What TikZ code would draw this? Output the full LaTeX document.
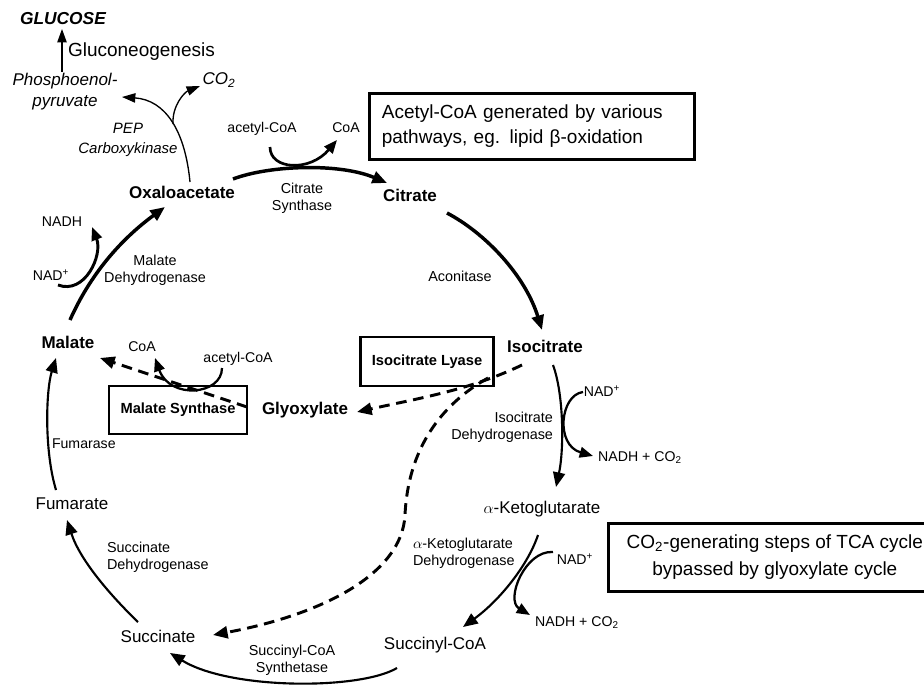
\documentclass[tikz,border=0pt]{standalone}
\usepackage{fontspec}
\setmainfont{Liberation Sans}
\usetikzlibrary{arrows.meta}
\tikzset{
  lbl/.style={inner sep=0pt, outer sep=0pt, text height=0.72em, text depth=0pt},
  metb/.style={lbl, font=\fontsize{12.75}{15}\selectfont\bfseries},
  metr/.style={lbl, font=\fontsize{12.75}{15}\selectfont},
  small/.style={lbl, font=\fontsize{10.6}{12.75}\selectfont},
  enz/.style={inner sep=0pt, outer sep=0pt, align=center, font=\fontsize{10.8}{12.75}\selectfont},
  itl/.style={inner sep=0pt, outer sep=0pt, font=\fontsize{12.75}{15.75}\selectfont\itshape},
  enzi/.style={inner sep=0pt, outer sep=0pt, align=center, font=\fontsize{11.25}{15}\selectfont\itshape},
  boxlbl/.style={draw, line width=1.9pt, inner sep=0pt, font=\fontsize{11}{13}\selectfont\bfseries},
  bigbox/.style={draw, line width=2pt, inner ysep=0pt},
  cyc/.style={line width=2.6pt, -{Triangle[length=11pt,width=9pt]}},
  cycthin/.style={line width=1.6pt, -{Triangle[length=11pt,width=9pt]}},
  side/.style={line width=1.7pt, -{Triangle[length=10pt,width=8pt]}},
  pepline/.style={line width=1pt, -{Triangle[length=10pt,width=7pt]}},
  gly/.style={line width=2.2pt, dash pattern=on 8pt off 5pt, -{Triangle[length=11pt,width=9pt]}}
}
\begin{document}
\begin{tikzpicture}[x=0.75pt,y=-0.75pt]
\clip (0,0) rectangle (924,685);
\fill[white] (0,0) rectangle (924,685);

% ---- top: gluconeogenesis
\node[lbl, font=\fontsize{13}{15}\selectfont\bfseries\itshape] (glucose) at (63,20) {GLUCOSE};
\node[lbl, anchor=west, font=\fontsize{14.25}{16}\selectfont] (gluco) at (68,52) {Gluconeogenesis};
\node[itl, align=center] (pep) at (65,92) {Phosphoenol-\\pyruvate};
\node[itl] (co2a) at (219,80) {CO\textsubscript{2}};
\node[enzi] (pepck) at (128,140) {PEP\\Carboxykinase};

% ---- metabolites
\node[metb] (oaa) at (182,194) {Oxaloacetate};
\node[metb] (cit) at (410,197) {Citrate};
\node[metb] (iso) at (545,348) {Isocitrate};
\node[metb] (glx) at (305,410) {Glyoxylate};
\node[metb] (mal) at (68,344) {Malate};
\node[metr] (fumt) at (72,505) {Fumarate};
\node[metr] (succ) at (158,638) {Succinate};
\node[metr] (sucoa) at (435,645) {Succinyl-CoA};
\node[metr] (akg) at (542,509) {$\alpha$-Ketoglutarate};

% ---- enzymes and cofactors
\node[enz] (cs) at (302,198) {Citrate\\Synthase};
\node[small] (acoa1) at (262,128) {acetyl-CoA};
\node[small] (coa1) at (346,128) {CoA};
\node[enz] (acon) at (460,276) {Aconitase};
\node[small] (nadh1) at (62,222) {NADH};
\node[small] (nad1) at (51,276) {NAD\textsuperscript{+}};
\node[enz] (mdh) at (155,270) {Malate\\Dehydrogenase};
\node[small] (coa2) at (142,347) {CoA};
\node[small] (acoa2) at (238,358) {acetyl-CoA};
\node[small, anchor=west] (fum) at (52,444) {Fumarase};
\node[enz, align=left, anchor=west] (sdh) at (107,557) {Succinate\\Dehydrogenase};
\node[enz] (scs) at (292,660) {Succinyl-CoA\\Synthetase};
\node[enz, align=left, anchor=west] (akgdh) at (413,553) {$\alpha$-Ketoglutarate\\Dehydrogenase};
\node[small] (nad3) at (575,560) {NAD\textsuperscript{+}};
\node[small] (nadh3) at (577,622) {NADH + CO\textsubscript{2}};
\node[enz, align=right, anchor=east] (idh) at (553,427) {Isocitrate\\Dehydrogenase};
\node[small] (nad2) at (602,392) {NAD\textsuperscript{+}};
\node[small] (nadh2) at (640,457) {NADH + CO\textsubscript{2}};

% ---- boxes
\node[boxlbl, minimum width=100pt, minimum height=36.75pt] (icl) at (427,361.5) {Isocitrate Lyase};
\node[boxlbl, minimum width=103.5pt, minimum height=36pt] (ms) at (178,410) {Malate Synthase};
\node[bigbox, anchor=north west, minimum width=243.75pt, minimum height=49.5pt,
      text width=225pt, align=left, inner xsep=9pt,
      font=\fontsize{14.25}{18.75}\selectfont] (accbox) at (368,92)
  {Acetyl-CoA generated by various\\pathways, eg. lipid β-oxidation};
\node[bigbox, anchor=north west, minimum width=249.75pt, minimum height=51pt,
      align=center, font=\fontsize{14.25}{20.25}\selectfont] (co2box) at (607,522)
  {CO\textsubscript{2}-generating steps of TCA cycle\\bypassed by glyoxylate cycle};

% ---- coordinates for connector ends
\coordinate (gS) at (62,72);   \coordinate (gE) at (62,29);
\coordinate (pkS) at (190,182); \coordinate (pkE) at (122,97);
\coordinate (pkB) at (173,124); \coordinate (pkC) at (200,86);
\coordinate (csS) at (233,179); \coordinate (csE) at (387,183);
\coordinate (csA) at (270,147); \coordinate (csB) at (337,140);
\coordinate (acS) at (447,213); \coordinate (acE) at (542,330);
\coordinate (idS) at (553,365); \coordinate (idE) at (556,487);
\coordinate (idA) at (583,392); \coordinate (idB) at (593,456);
\coordinate (kgS) at (538,535); \coordinate (kgE) at (463,627);
\coordinate (kgA) at (553,552); \coordinate (kgB) at (530,615);
\coordinate (scS) at (397,668); \coordinate (scE) at (170,653);
\coordinate (sdS) at (138,622); \coordinate (sdE) at (67,520);
\coordinate (fuS) at (56,490);  \coordinate (fuE) at (56,358);
\coordinate (mdS) at (70,320);  \coordinate (mdE) at (165,207);
\coordinate (mdA) at (58,285);  \coordinate (mdB) at (92,227);
\coordinate (ilS) at (522,365); \coordinate (ilE) at (357,412);
\coordinate (brS) at (488,378); \coordinate (brM) at (405,515); \coordinate (brE) at (213,635);
\coordinate (msS) at (247,407); \coordinate (msE) at (100,358);
\coordinate (msA) at (222,368); \coordinate (msB) at (155,358);

% ---- connectors
\draw[pepline] (gS) -- (gE);
\draw[pepline] (pkS) .. controls (185,130) and (165,100) .. (pkE);
\draw[pepline] (pkB) .. controls (172,105) and (185,92) .. (pkC);

\draw[cyc] (csS) .. controls (270,165) and (340,163) .. (csE);
\draw[side, line width=2pt] (csA) .. controls (270,170) and (310,172) .. (csB);

\draw[cyc] (acS) .. controls (485,233) and (525,275) .. (acE);

\draw[cycthin] (idS) .. controls (564,395) and (564,450) .. (idE);
\draw[side] (idA) .. controls (560,395) and (555,445) .. (idB);

\draw[cycthin] (kgS) .. controls (528,565) and (500,600) .. (kgE);
\draw[side] (kgA) .. controls (525,550) and (505,600) .. (kgB);

\draw[cycthin] (scS) .. controls (360,690) and (230,690) .. (scE);
\draw[cycthin] (sdS) .. controls (110,595) and (80,560) .. (sdE);
\draw[cycthin] (fuS) .. controls (44,450) and (46,390) .. (fuE);

\draw[cyc] (mdS) .. controls (90,275) and (120,240) .. (mdE);
\draw[side, line width=2.2pt] (mdA) .. controls (85,295) and (103,255) .. (mdB);

\draw[gly] (ilS) .. controls (470,390) and (420,398) .. (ilE);
\draw[gly] (brS) .. controls (440,405) and (408,450) .. (brM) .. controls (402,575) and (320,615) .. (brE);
\draw[gly] (msS) -- (msE);
\draw[side] (msA) .. controls (222,395) and (170,400) .. (msB);
\end{tikzpicture}
\end{document}
